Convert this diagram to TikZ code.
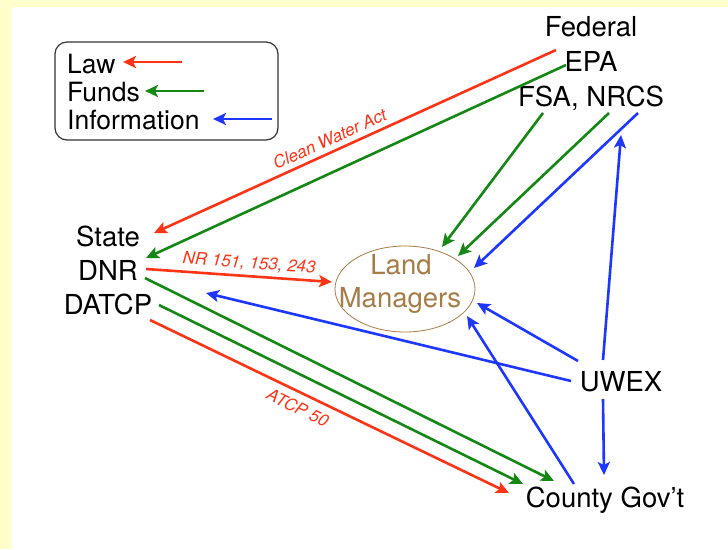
\documentclass[tikz,border=0pt]{standalone}
\usepackage{fontspec}
\setmainfont{TeX Gyre Heros}
\usetikzlibrary{arrows.meta,shapes.geometric,calc}
\definecolor{lawc}{RGB}{255,52,22}
\definecolor{fundc}{RGB}{20,135,20}
\definecolor{infoc}{RGB}{30,55,255}
\definecolor{brownc}{RGB}{166,124,72}
\definecolor{bgy}{RGB}{255,255,204}
\tikzset{
  lbl/.style={font=\fontsize{27.5}{27.5}\selectfont, inner sep=0pt, anchor=base},
  leglbl/.style={font=\fontsize{26.5}{26.5}\selectfont, inner sep=0pt, anchor=base west},
  flow/.style={line width=2.6pt, -{Stealth[length=13pt,width=12pt,inset=3pt]}},
  law/.style={flow, draw=lawc},
  fund/.style={flow, draw=fundc},
  info/.style={flow, draw=infoc},
  actlbl/.style={font=\fontsize{17}{17}\selectfont\itshape, text=lawc, inner sep=0pt},
}
\begin{document}
\begin{tikzpicture}[x=1pt,y=-1pt]
\useasboundingbox (0,0) rectangle (728,549);
\fill[bgy] (0,0) rectangle (728,549);
\fill[white] (12,7) rectangle (728,549);

% legend
\draw[line width=1.2pt, draw=black!80, rounded corners=12pt] (55,42) rectangle (278,140);
\node[leglbl] (lawt) at (67,73) {Law};
\node[leglbl] (fundt) at (67,101) {Funds};
\node[leglbl] (infot) at (67,129) {Information};
\coordinate (lawa) at (182,62); \coordinate (lawb) at (123,62);
\coordinate (funa) at (204,91); \coordinate (funb) at (145,91);
\coordinate (infa) at (272,119); \coordinate (infb) at (213,119);
\draw[law] (lawa) -- (lawb);
\draw[fund] (funa) -- (funb);
\draw[info] (infa) -- (infb);

% nodes
\node[lbl] (fed) at (591,36) {Federal};
\node[lbl] (epa) at (591,71) {EPA};
\node[lbl] (fsa) at (591,106) {FSA, NRCS};
\node[lbl] (state) at (108,246) {State};
\node[lbl] (dnr) at (108,280) {DNR};
\node[lbl] (datcp) at (108,314) {DATCP};
\node[lbl] (uwex) at (621,391) {UWEX};
\node[lbl] (county) at (605,507) {County Gov't};
\node[draw=brownc, line width=0.8pt, ellipse, minimum width=140pt, minimum height=86pt, inner sep=0pt] (land) at (405,289) {};
\node[lbl, text=brownc] (landt) at (401,274) {Land};
\node[lbl, text=brownc] (mant) at (400,307) {Managers};

% endpoints
\coordinate (f1) at (556,50);  \coordinate (s1) at (154,233);
\coordinate (e1) at (566,65);  \coordinate (d1) at (146,258);
\coordinate (n1) at (543,113); \coordinate (l1) at (442,247);
\coordinate (n2) at (609,113); \coordinate (l2) at (458,256);
\coordinate (n3) at (638,113); \coordinate (l3) at (474,268);
\coordinate (u1) at (603,360); \coordinate (n4) at (621,135);
\coordinate (u2) at (578,361); \coordinate (l4) at (477,303);
\coordinate (u3) at (571,381); \coordinate (d2) at (206,293);
\coordinate (c1) at (574,484); \coordinate (l5) at (467,316);
\coordinate (u4) at (603,399); \coordinate (c2) at (604,475);
\coordinate (d3) at (146,269); \coordinate (l6) at (332,282);
\coordinate (d4) at (145,278); \coordinate (c3) at (554,481);
\coordinate (d5) at (159,305); \coordinate (c4) at (523,484);
\coordinate (d6) at (150,320); \coordinate (c5) at (509,493);

\draw[law] (f1) -- node[actlbl, sloped, above=5pt, pos=0.55] (cwa) {Clean Water Act} (s1);
\draw[fund] (e1) -- (d1);
\draw[fund] (n1) -- (l1);
\draw[fund] (n2) -- (l2);
\draw[info] (n3) -- (l3);
\draw[info] (u1) -- (n4);
\draw[info] (u2) -- (l4);
\draw[info] (u3) -- (d2);
\draw[info] (c1) -- (l5);
\draw[info] (u4) -- (c2);
\draw[law] (d3) -- node[actlbl, sloped, above=4pt, pos=0.55] (nr) {NR 151, 153, 243} (l6);
\draw[fund] (d4) -- (c3);
\draw[fund] (d5) -- (c4);
\draw[law] (d6) -- node[actlbl, sloped, below=7pt, pos=0.43] (atcp) {ATCP 50} (c5);
\end{tikzpicture}
\end{document}
